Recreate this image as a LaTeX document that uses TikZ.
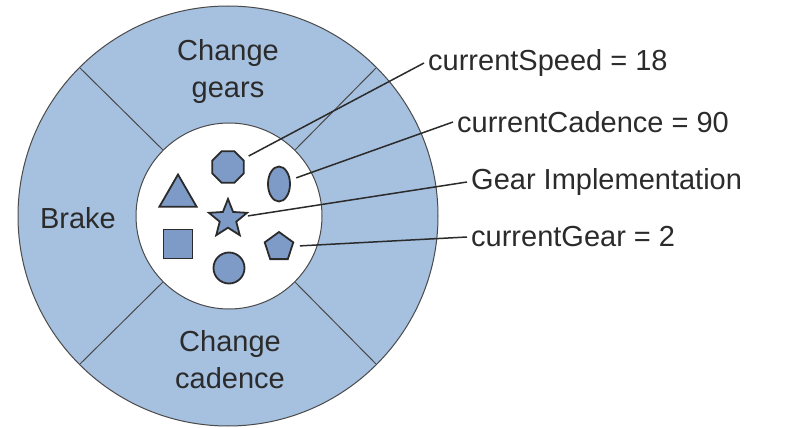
\documentclass[tikz,border=0pt]{standalone}
\usepackage{fontspec}
\setmainfont{Liberation Sans}
\usetikzlibrary{shapes.geometric}
\definecolor{bkRing}{HTML}{A6C0DF}
\definecolor{bkPart}{HTML}{7E9BC7}
\definecolor{bkInk}{HTML}{2B2B2B}
\definecolor{bkEdge}{HTML}{4A4A4A}
\tikzset{
  bk ring/.style={circle, draw=bkEdge, line width=1pt, inner sep=0pt, outer sep=0pt},
  bk spoke/.style={draw=bkEdge, line width=1pt},
  bk part/.style={draw=bkInk, fill=bkPart, line width=1.8pt, inner sep=0pt},
  bk lead/.style={draw=bkInk, line width=1.5pt, shorten <=6pt},
  bk label/.style={font=\fontsize{29}{37}\selectfont, text=bkInk, align=center},
  bk field/.style={font=\fontsize{29}{37}\selectfont, text=bkInk, anchor=west, inner sep=4pt},
}

\begin{document}
\begin{tikzpicture}[x=1pt,y=-1pt]
  \useasboundingbox (0,0) rectangle (788,428);
  \node[bk ring, fill=bkRing, minimum size=420pt] (wheel) at (228,216) {};
  \node[bk ring, fill=white, minimum size=186pt] (hub) at (229,216) {};
  \foreach \a in {45,135,225,315} {
    \draw[bk spoke] (hub.\a) -- (wheel.\a);
  }

  \node[bk label] (gearsLabel) at (228,72) {Change\\gears};
  \node[bk label] (brakeLabel) at (78,218) {Brake};
  \node[bk label] (cadenceLabel) at (230,360) {Change\\cadence};

  \node[bk part, regular polygon, regular polygon sides=8, minimum size=34pt] (oct) at (228,167) {};
  \node[bk part, ellipse, minimum width=22pt, minimum height=35pt] (oval) at (279,184) {};
  \node[bk part, regular polygon, regular polygon sides=3, minimum size=43pt] (tri) at (178,196) {};
  \node[bk part, star, star points=5, star point ratio=2.3, minimum size=40pt] (gearStar) at (228,219) {};
  \node[bk part, rectangle, minimum size=29pt] (sq) at (178,244) {};
  \node[bk part, regular polygon, regular polygon sides=5, minimum size=30pt] (pent) at (279,247) {};
  \node[bk part, circle, minimum size=31pt] (dot) at (229,268) {};

  \node[bk field] (speedField) at (424,63) {currentSpeed = 18};
  \node[bk field] (cadenceField) at (453,122) {currentCadence = 90};
  \node[bk field] (gearImpl) at (467,182) {Gear Implementation};
  \node[bk field] (gearField) at (467,237) {currentGear = 2};

  \draw[bk lead] (oct) -- (speedField.west);
  \draw[bk lead] (oval) -- (cadenceField.west);
  \draw[bk lead, shorten <=4pt] (gearStar) -- (gearImpl.west);
  \draw[bk lead, shorten <=7pt] (pent) -- (gearField.west);
\end{tikzpicture}
\end{document}
